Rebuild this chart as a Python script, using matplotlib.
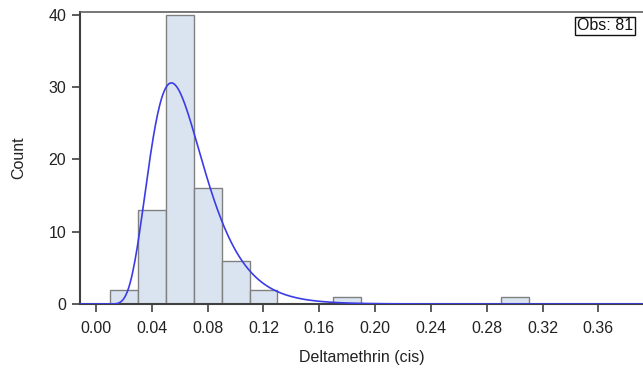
import numpy as np
import matplotlib
matplotlib.use("Agg")
import matplotlib.pyplot as plt

plt.rcParams['font.family'] = ['Liberation Sans', 'DejaVu Sans']

# Histogram data (bin left edges, width 0.02)
bin_left = [0.01, 0.03, 0.05, 0.07, 0.09, 0.11, 0.17, 0.29]
counts = [2, 13, 40, 16, 6, 2, 1, 1]
bin_width = 0.02
n_obs = 81
# Fitted lognormal parameters
ln_mu = -2.785
ln_sigma = 0.366

x_ticks = [0.00, 0.04, 0.08, 0.12, 0.16, 0.20, 0.24, 0.28, 0.32, 0.36]
y_ticks = [0, 10, 20, 30, 40]

fig = plt.figure(figsize=(6.43, 3.74), dpi=100)
ax = fig.add_axes([80/643, 70/374, 1 - 80/643, (304-12)/374])

ax.bar(bin_left, counts, width=bin_width, align='edge',
       color='#dae4f0', edgecolor='#808080', linewidth=1.0, zorder=2)

xmin, xmax = -0.0115, 0.392
xs = np.linspace(xmin, xmax, 800)
pdf = np.zeros_like(xs)
pos = xs > 0
pdf[pos] = np.exp(-(np.log(xs[pos]) - ln_mu) ** 2 / (2 * ln_sigma ** 2)) / (xs[pos] * ln_sigma * np.sqrt(2 * np.pi))
ax.plot(xs, pdf * n_obs * bin_width, color='#3c3ce6', linewidth=1.2, zorder=3)

ax.set_xlim(xmin, xmax)
ax.set_ylim(0, 40.4)
ax.set_xticks(x_ticks)
ax.set_xticklabels([f"{t:.2f}" for t in x_ticks])
ax.set_yticks(y_ticks)

ax.spines['right'].set_visible(False)
for s in ['left', 'bottom']:
    ax.spines[s].set_color('#404040')
    ax.spines[s].set_linewidth(1.5)
ax.spines['top'].set_color('#606060')
ax.spines['top'].set_linewidth(1.2)

ax.tick_params(axis='both', direction='out', length=6, width=1.2, color='#404040',
               labelsize=11.5, labelcolor='#222222', pad=4)
ax.tick_params(axis='x', pad=6)

ax.set_xlabel('Deltamethrin (cis)', fontsize=11.5, color='#222222', labelpad=10)
ax.set_ylabel('Count', fontsize=11.5, color='#222222', labelpad=16)

ax.text(0.983, 0.978, f'Obs: {n_obs}', transform=ax.transAxes, ha='right', va='top',
        fontsize=11.5, color='#111111',
        bbox=dict(boxstyle='square,pad=0.12', facecolor='white', edgecolor='#111111', linewidth=1))

fig.savefig('out.png', dpi=100)
